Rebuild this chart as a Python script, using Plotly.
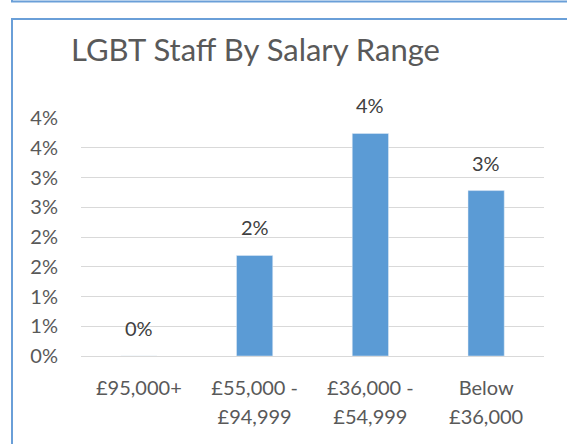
import plotly.graph_objects as go

categories = ["£95,000+", "£55,000 -<br>£94,999", "£36,000 -<br>£54,999", "Below<br>£36,000"]
values = [0.0, 0.0169, 0.0374, 0.0278]
y_tick_vals = [0, 0.005, 0.01, 0.015, 0.02, 0.025, 0.03, 0.035, 0.04]
y_tick_text = ["0%", "1%", "1%", "2%", "2%", "3%", "3%", "4%", "4%"]
title_text = "LGBT Staff By Salary Range"

W, H = 567, 444
L, R, T, B = 81, 23, 118, 88
pw, ph = W - L - R, H - T - B

def px_x(p):
    return (p - L) / pw

def px_y(p):
    return (H - B - p) / ph

FONT = "Lato"
fig = go.Figure(go.Bar(
    x=categories, y=values, marker_color="#5B9BD5", width=0.313,
    hoverinfo="skip",
))

for c, v in zip(categories, values):
    fig.add_annotation(x=c, y=v, text=f"{v*100:.0f}%", showarrow=False,
                       yanchor="bottom", yshift=14,
                       font=dict(family=FONT, size=20, color="#404040"))

x_tick_text = ["<br>".join(f'<span style="font-size:20px">{part}</span>'
                           for part in c.split("<br>")) for c in categories]

fig.update_layout(
    width=W, height=H,
    margin=dict(l=L, r=R, t=T, b=B),
    paper_bgcolor="white", plot_bgcolor="white",
    showlegend=False,
    title=dict(text=title_text, x=71 / W, xref="container", xanchor="left",
               y=1 - 50 / H, yref="container", yanchor="middle",
               font=dict(family=FONT, size=31, color="#595959")),
    xaxis=dict(showgrid=False, showline=False, ticks="", ticklabelstandoff=15,
               tickmode="array", tickvals=categories, ticktext=x_tick_text,
               tickfont=dict(family=FONT, size=22.5, color="#595959")),
    yaxis=dict(range=[0, 0.04], tickvals=y_tick_vals, ticktext=y_tick_text,
               showgrid=True, gridcolor="#D9D9D9", gridwidth=1,
               zeroline=True, zerolinecolor="#D9D9D9", zerolinewidth=1,
               showline=False, ticks="", ticklabelstandoff=22,
               tickfont=dict(family=FONT, size=20, color="#595959")),
    shapes=[
        dict(type="rect", xref="paper", yref="paper",
             x0=px_x(12), x1=px_x(590), y0=px_y(1.5), y1=px_y(-60),
             line=dict(color="#6A9FD8", width=2)),
        dict(type="rect", xref="paper", yref="paper",
             x0=px_x(12), x1=px_x(590), y0=px_y(19), y1=px_y(470),
             line=dict(color="#6A9FD8", width=2)),
    ],
)

fig.write_html("out.html", config={"displayModeBar": False},
               post_script="document.body.style.margin='0px';")
